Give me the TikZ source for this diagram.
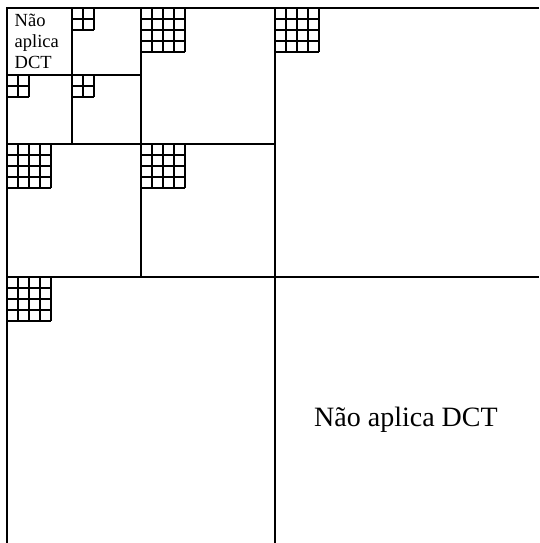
\documentclass[tikz,border=0pt]{standalone}
\usepackage{fontspec}
\setmainfont{Liberation Serif}
\tikzset{
  part/.style={line width=1.3pt, black},
  gridline/.style={line width=1.2pt, black},
  small/.style={anchor=base west, inner sep=0pt, font=\fontsize{18.5}{21}\selectfont},
  big/.style={anchor=base west, inner sep=0pt, font=\fontsize{28}{33}\selectfont}
}
\newcommand{\mygrid}[4]{% x, y, n, cell
  \foreach \k in {1,...,#3}{
    \draw[gridline] ({#1+\k*#4},#2) -- ({#1+\k*#4},{#2+#3*#4});
    \draw[gridline] (#1,{#2+\k*#4}) -- ({#1+#3*#4},{#2+\k*#4});
  }
}
\begin{document}
\begin{tikzpicture}[x=1pt,y=-1pt]
\useasboundingbox (0,0) rectangle (539,543);
% main partition
\draw[part] (539,8) -- (7,8) -- (7,543);
\draw[part] (275,8) -- (275,543);
\draw[part] (7,277) -- (539,277);
\draw[part] (141,8) -- (141,277);
\draw[part] (7,144) -- (275,144);
\draw[part] (72,8) -- (72,144);
\draw[part] (7,75) -- (141,75);
% 4x4 grids
\mygrid{141}{8}{4}{11}
\mygrid{275}{8}{4}{11}
\mygrid{7}{144}{4}{11}
\mygrid{141}{144}{4}{11}
\mygrid{7}{277}{4}{11}
% 2x2 grids
\mygrid{72}{8}{2}{11}
\mygrid{7}{75}{2}{11}
\mygrid{72}{75}{2}{11}
% texts
\node[small] (t1) at (14.5,26.5) {Não};
\node[small] (t2) at (14.5,47.5) {aplica};
\node[small] (t3) at (14.5,69) {DCT};
\node[big] (tb) at (314,426.7) {Não aplica DCT};
\end{tikzpicture}
\end{document}
